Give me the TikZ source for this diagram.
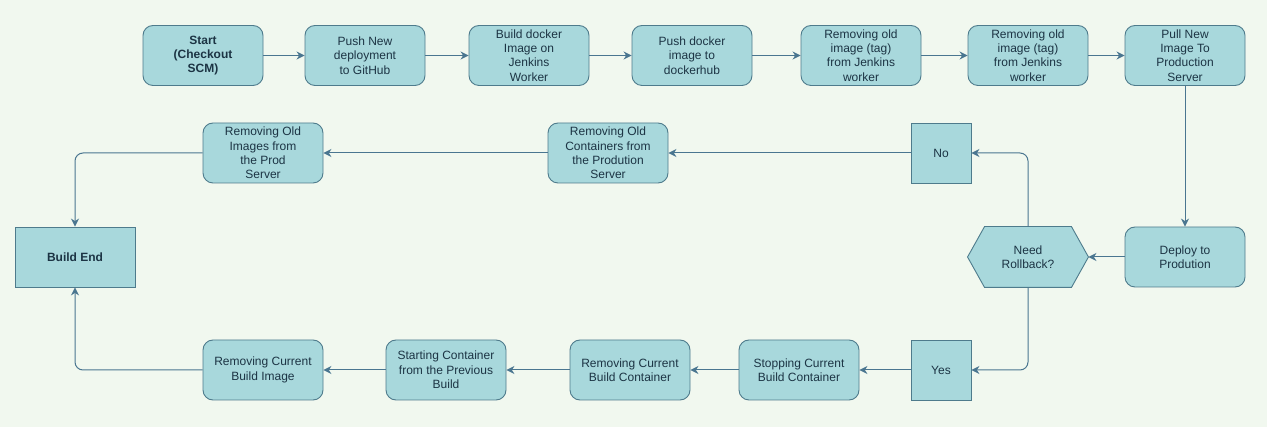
\documentclass[tikz,border=0pt]{standalone}
\usepackage{fontspec}
\setmainfont{Liberation Sans}
\usetikzlibrary{arrows.meta,backgrounds}
\definecolor{bg}{HTML}{F1F8EF}
\definecolor{boxfill}{HTML}{A8D8DC}
\definecolor{boxline}{HTML}{4E7B8C}
\definecolor{txt}{HTML}{1C3444}
\definecolor{arr}{HTML}{4A7690}
\begin{document}
\begin{tikzpicture}[x=1pt,y=-1pt,
  box/.style={draw=boxline, fill=boxfill, line width=0.9pt, rounded corners=10pt, minimum width=120pt, minimum height=60pt, align=center, inner sep=0pt, font=\fontsize{12}{14.3}\selectfont, text=txt},
  sq/.style={box, rounded corners=0pt, minimum width=60pt},
  endbox/.style={box, rounded corners=0pt},
  hexnode/.style={box, draw=none, fill=none},
  conn/.style={draw=arr, line width=1pt, -{Stealth[length=8pt,width=8pt]}, rounded corners=8pt}
]
\useasboundingbox (0,0) rectangle (1267,427);
% top row
\node[box] (start) at (203,55.5) {\bfseries Start\\\bfseries (Checkout\\\bfseries SCM)};
\node[box] (pushgh) at (365,55.5) {Push New\\deployment\\to GitHub};
\node[box] (build) at (529,55.5) {Build docker\\Image on\\Jenkins\\Worker};
\node[box] (pushdh) at (692,55.5) {Push docker\\image to\\dockerhub};
\node[box] (rmone) at (861,55.5) {Removing old\\image (tag)\\from Jenkins\\worker};
\node[box] (rmtwo) at (1028,55.5) {Removing old\\image (tag)\\from Jenkins\\worker};
\node[box] (pull) at (1185,55.5) {Pull New\\Image To\\Production\\Server};
% middle row
\node[box] (oldi) at (263,153) {Removing Old\\Images from\\the Prod\\Server};
\node[box] (oldc) at (608,153) {Removing Old\\Containers from\\the Prodution\\Server};
\node[sq] (no) at (941,153) {No};
\node[endbox] (bend) at (75,257) {\bfseries Build End};
\node[hexnode] (rb) at (1028,257) {Need\\Rollback?};
\begin{scope}[on background layer]
\fill[bg] (0,0) rectangle (1267,427);
\draw[draw=boxline, fill=boxfill, line width=0.9pt] (rb.west) -- ([xshift=17pt]rb.north west) -- ([xshift=-17pt]rb.north east) -- (rb.east) -- ([xshift=-17pt]rb.south east) -- ([xshift=17pt]rb.south west) -- cycle;
\end{scope}
\node[box] (deploy) at (1185,257) {Deploy to\\Prodution};
% bottom row
\node[box] (curimg) at (263,370) {Removing Current\\Build Image};
\node[box] (startc) at (446,370) {Starting Container\\from the Previous\\Build};
\node[box] (rmcur) at (630,370) {Removing Current\\Build Container};
\node[box] (stop) at (799,370) {Stopping Current\\Build Container};
\node[sq] (yes) at (941,370) {Yes};
% connectors
\draw[conn] (start) -- (pushgh);
\draw[conn] (pushgh) -- (build);
\draw[conn] (build) -- (pushdh);
\draw[conn] (pushdh) -- (rmone);
\draw[conn] (rmone) -- (rmtwo);
\draw[conn] (rmtwo) -- (pull);
\draw[conn] (pull) -- (deploy);
\draw[conn] (deploy) -- (rb);
\draw[conn] (rb.north) |- (no.east);
\draw[conn] (rb.south) |- (yes.east);
\draw[conn] (no) -- (oldc);
\draw[conn] (oldc) -- (oldi);
\draw[conn] (oldi.west) -| (bend.north);
\draw[conn] (yes) -- (stop);
\draw[conn] (stop) -- (rmcur);
\draw[conn] (rmcur) -- (startc);
\draw[conn] (startc) -- (curimg);
\draw[conn] (curimg.west) -| (bend.south);
\end{tikzpicture}
\end{document}
